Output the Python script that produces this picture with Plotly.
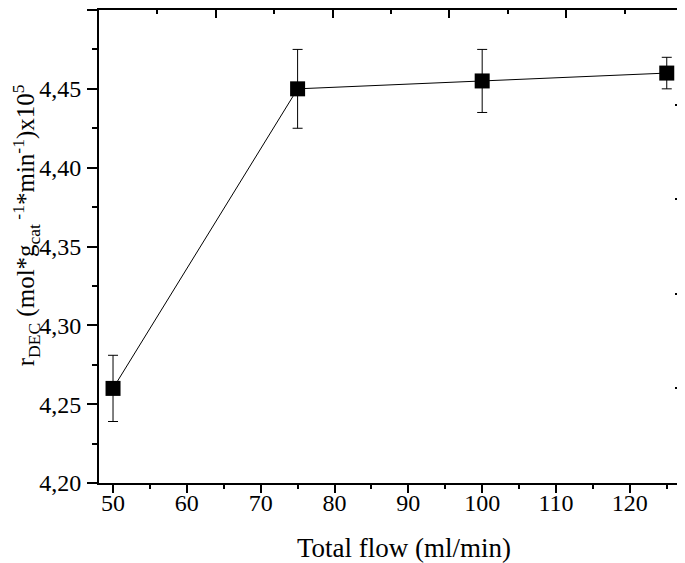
import plotly.graph_objects as go

# data
total_flow = [50, 75, 100, 125]
r_dec = [4.26, 4.45, 4.455, 4.46]
r_dec_err = [0.021, 0.025, 0.02, 0.01]

serif = "'Liberation Serif', 'Times New Roman', Times, serif"

# page body has an 8px margin, so the figure is 8px smaller than the window
W, H = 677, 555
ML, MR, MT, MB = 91, 2, 2, 80

fig = go.Figure()

fig.add_trace(go.Scatter(
    x=total_flow, y=r_dec,
    mode="lines+markers",
    line=dict(color="black", width=1),
    marker=dict(symbol="square", size=15, color="black"),
    error_y=dict(type="data", array=r_dec_err, visible=True,
                 color="black", thickness=1, width=5),
    showlegend=False,
))

# empty trace so the top / right frame axes get drawn
fig.add_trace(go.Scatter(x=[None], y=[None], xaxis="x2", yaxis="y2", showlegend=False))

frame = dict(showgrid=False, zeroline=False, showline=True, linecolor="black",
             linewidth=2, tickwidth=2, tickcolor="black", automargin=False)

fig.update_layout(
    width=W, height=H,
    margin=dict(l=ML, r=MR, t=MT, b=MB, autoexpand=False),
    plot_bgcolor="white", paper_bgcolor="white",
    separators=",.",
    font=dict(family=serif, size=24, color="black"),
    xaxis=dict(
        range=[48.1, 127.2], dtick=10, tick0=50,
        ticks="outside", ticklen=8, ticklabelstandoff=-11,
        minor=dict(ticks="outside", ticklen=4, tickwidth=2, dtick=5, tick0=50, tickcolor="black"),
        tickfont=dict(family=serif, size=24),
        **frame,
    ),
    yaxis=dict(
        range=[4.20, 4.50], dtick=0.05, tick0=4.2, tickformat=".2f",
        ticks="outside", ticklen=10, ticklabelstandoff=1,
        minor=dict(ticks="outside", ticklen=5, tickwidth=2, dtick=0.025, tick0=4.2, tickcolor="black"),
        tickfont=dict(family=serif, size=24),
        **frame,
    ),
    xaxis2=dict(
        overlaying="x", side="top", range=[0, 5], dtick=1, showticklabels=False,
        ticks="inside", ticklen=8,
        minor=dict(ticks="inside", ticklen=4, tickwidth=2, dtick=0.5, tickcolor="black"),
        **frame,
    ),
    yaxis2=dict(
        overlaying="y", side="right", range=[0, 5], dtick=1, showticklabels=False,
        ticks="inside", ticklen=8,
        minor=dict(ticks="inside", ticklen=4, tickwidth=2, dtick=0.5, tickcolor="black"),
        **frame,
    ),
    annotations=[
        dict(text="Total flow (ml/min)", xref="paper", yref="paper",
             x=0.522, y=-0.137, xanchor="center", yanchor="middle",
             showarrow=False, font=dict(family=serif, size=27)),
        dict(text="r<sub>DEC</sub> (mol*g<sub>cat</sub><sup> -1</sup>*min<sup>-1</sup>)x10<sup>5</sup>",
             xref="paper", yref="paper", x=-0.125, y=0.545, textangle=-90,
             xanchor="center", yanchor="middle",
             showarrow=False, font=dict(family=serif, size=25)),
    ],
)

fig.write_html("out.html")
